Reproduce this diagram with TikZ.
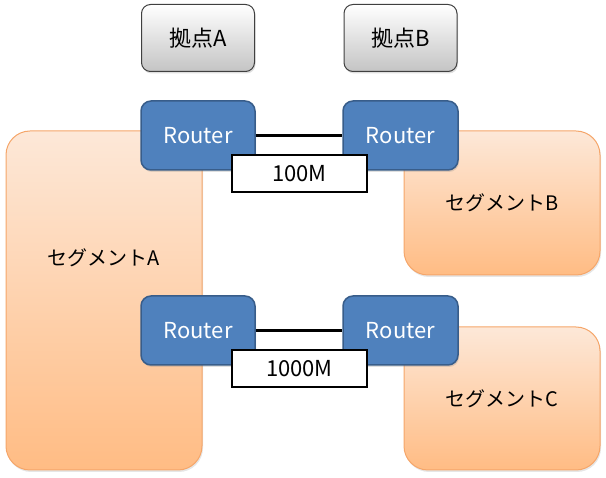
\documentclass[tikz,border=0pt]{standalone}
\usepackage{fontspec}
\setmainfont{Noto Sans CJK JP}
\usetikzlibrary{shadows}
\definecolor{routerfill}{HTML}{4F81BD}
\definecolor{routerdraw}{HTML}{385D8A}
\definecolor{segtop}{HTML}{FDE8D8}
\definecolor{segbot}{HTML}{FFBC84}
\definecolor{segdraw}{HTML}{F5A66A}
\definecolor{sitebot}{HTML}{C4C4C4}
\tikzset{
  sitebox/.style={draw=black!75, line width=1pt, rounded corners=9pt, top color=white, bottom color=sitebot,
    minimum width=113pt, minimum height=67pt, inner sep=0pt, font=\fontsize{22}{24}\selectfont,
    drop shadow={opacity=0.25, shadow xshift=1pt, shadow yshift=-2pt}},
  routerbox/.style={draw=routerdraw, line width=1.5pt, rounded corners=10pt, fill=routerfill,
    minimum width=114pt, minimum height=69pt, inner sep=0pt, text=white, font=\fontsize{22}{24}\selectfont,
    drop shadow={opacity=0.25, shadow xshift=1pt, shadow yshift=-2pt}},
  segbox/.style={draw=segdraw, line width=1pt, rounded corners=24pt, top color=segtop, bottom color=segbot,
    inner sep=0pt, font=\fontsize{20}{22}\selectfont,
    drop shadow={opacity=0.2, shadow xshift=1pt, shadow yshift=-2pt}},
  seglabel/.style={font=\fontsize{20}{22}\selectfont, inner sep=0pt},
  speedbox/.style={draw=black, line width=2pt, fill=white, minimum width=135pt, minimum height=37pt,
    inner sep=0pt, font=\fontsize{22}{24}\selectfont},
  link/.style={line width=3pt, black}
}
\begin{document}
\begin{tikzpicture}[x=1pt,y=-1pt]
\useasboundingbox (0,0) rectangle (606,478);
% segments
\node[segbox, minimum width=196pt, minimum height=339pt] (segA) at (104,300.5) {};
\node[seglabel] (segAlabel) at (104,258) {セグメントA};
\node[segbox, minimum width=196pt, minimum height=144pt] (segB) at (502,203) {セグメントB};
\node[segbox, minimum width=196pt, minimum height=143pt] (segC) at (502,398.5) {セグメントC};
% sites
\node[sitebox] (kA) at (198,38) {拠点A};
\node[sitebox] (kB) at (400.5,38) {拠点B};
% routers
\node[routerbox] (rA1) at (198,135.5) {Router};
\node[routerbox, minimum width=115pt] (rB1) at (400.5,135.5) {Router};
\node[routerbox] (rA2) at (198,330.5) {Router};
\node[routerbox, minimum width=115pt] (rB2) at (400.5,330.5) {Router};
% links
\draw[link] (rA1.east) -- (rB1.west);
\draw[link] (rA2.east) -- (rB2.west);
% speeds
\node[speedbox] (l100) at (299.5,173.5) {100M};
\node[speedbox] (l1000) at (299.5,368.5) {1000M};
\end{tikzpicture}
\end{document}
